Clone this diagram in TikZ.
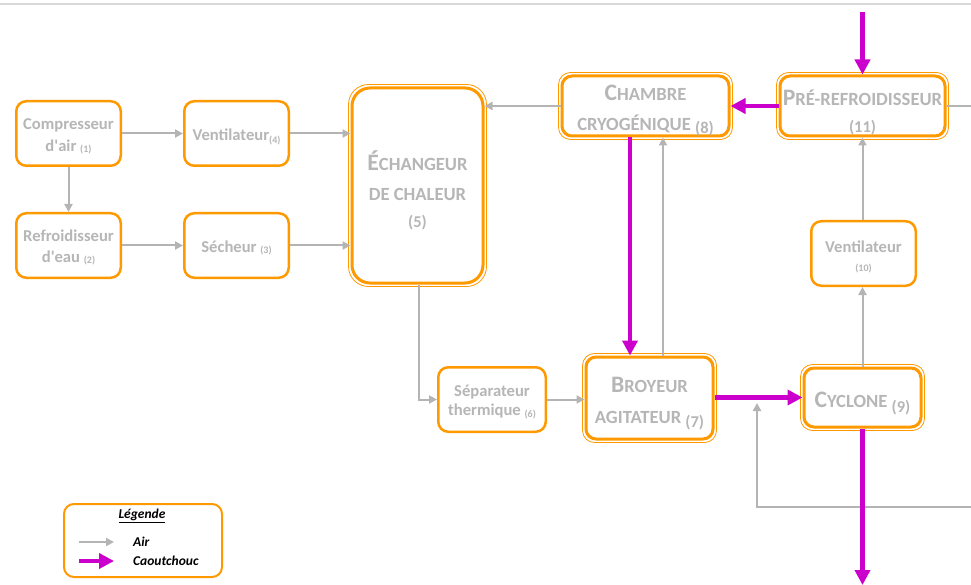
\documentclass[tikz,border=0pt]{standalone}
\usepackage{fontspec}
\setmainfont{Carlito}
\usetikzlibrary{arrows.meta,calc}
\definecolor{orng}{RGB}{255,153,0}
\definecolor{magn}{RGB}{204,0,204}
\definecolor{txtgray}{RGB}{182,182,182}
\definecolor{airgray}{RGB}{180,180,180}
\definecolor{topgray}{RGB}{217,217,217}
\newcommand{\upC}[1]{{\fontsize{23.6}{29}\selectfont #1}}
\newcommand{\scC}[1]{{\fontsize{18.6}{29}\selectfont #1}}
\newcommand{\idx}[1]{{\fontsize{10}{12}\selectfont #1}}
\newcommand{\numC}[1]{{\fontsize{16.5}{20}\selectfont #1}}
\newcommand{\lineat}[2]{\raisebox{#1}[0pt][0pt]{#2}}
\tikzset{
  box/.style={draw=orng, line width=2.5pt, rounded corners=10pt, fill=white,
    text=txtgray, font=\bfseries\fontsize{16.6}{20.5}\selectfont, align=center, inner sep=0pt},
  bigbox/.style={box, line width=3pt, font=\bfseries\fontsize{18.6}{29}\selectfont},
  outerline/.style={draw=orng, line width=0.8pt},
  airline/.style={draw=airgray, line width=2pt},
  air/.style={airline, -{Triangle[length=8pt,width=8pt]}},
  rub/.style={draw=magn, line width=4.5pt, -{Triangle[length=15pt,width=15pt]}},
  legbox/.style={draw=orng, line width=2pt, rounded corners=10pt, fill=white},
  legtext/.style={font=\bfseries\itshape\fontsize{13.5}{16}\selectfont, text=black, inner sep=0pt}
}
\begin{document}
\begin{tikzpicture}[x=1pt,y=-1pt]
\useasboundingbox (0,0) rectangle (971,585);
\draw[topgray, line width=1.5pt] (0,4) -- (971,4);

% single boxes
\node[box, minimum width=104.5pt, minimum height=64.5pt] (c1) at (68.5,133.5)
  {\lineat{-7pt}{Compresseur}\\[1pt]\lineat{-7pt}{d\textquotesingle air \raisebox{-1pt}{\idx{(1)}}}};
\node[box, minimum width=104.5pt, minimum height=64.5pt] (r2) at (68.5,245.5)
  {\lineat{-6.5pt}{Refroidisseur}\\[0.5pt]\lineat{-6.5pt}{d\textquotesingle eau \raisebox{-1pt}{\idx{(2)}}}};
\node[box, minimum width=104.5pt, minimum height=64.5pt] (v4) at (236.5,133.5)
  {\lineat{-7.5pt}{Ventilateur\raisebox{-3pt}{\idx{(4)}}}};
\node[box, minimum width=104.5pt, minimum height=64.5pt] (s3) at (236.5,245.5)
  {\lineat{-7pt}{Sécheur \raisebox{-1pt}{\idx{(3)}}}};
\node[box, minimum width=104.5pt, minimum height=64.5pt] (v10) at (863.5,253.5)
  {\lineat{-8.5pt}{Ventilateur}\\[-2pt]\lineat{-8.5pt}{\idx{(10)}}};
\node[box, minimum width=107.5pt, minimum height=64.5pt] (s6) at (492,399.5)
  {\lineat{-6.5pt}{Séparateur}\\[-1pt]\lineat{-6.5pt}{thermique \raisebox{-2pt}{\idx{(6)}}}};

% double boxes
\node[bigbox, rounded corners=18pt, minimum width=131pt, minimum height=195pt] (e5) at (417.5,185.5)
  {\lineat{-13.5pt}{\upC{É}\scC{CHANGEUR}}\\[1pt]\lineat{-13.5pt}{\scC{DE CHALEUR}}\\[-2pt]\lineat{-13.5pt}{\numC{(5)}}};
\node[bigbox, minimum width=167pt, minimum height=60pt] (c8) at (645.5,106)
  {\lineat{-9.5pt}{\upC{C}\scC{HAMBRE}}\\[1.5pt]\lineat{-9.5pt}{\scC{CRYOGÉNIQUE} \raisebox{-3pt}{\numC{(8)}}}};
\node[bigbox, minimum width=165pt, minimum height=60pt] (p11) at (862.5,106)
  {\lineat{-13pt}{\upC{P}\scC{RÉ-REFROIDISSEUR}}\\[-1.5pt]\lineat{-13pt}{\numC{(11)}}};
\node[bigbox, minimum width=127pt, minimum height=82pt] (b7) at (649.5,398)
  {\lineat{-10pt}{\upC{B}\scC{ROYEUR}}\\[2.5pt]\lineat{-10pt}{\scC{AGITATEUR} \raisebox{-4pt}{\numC{(7)}}}};
\node[bigbox, minimum width=117pt, minimum height=59pt] (cy9) at (862.5,397.5)
  {\lineat{-10pt}{\upC{C}\scC{YCLONE} \raisebox{-5pt}{\numC{(9)}}}};

\foreach \n/\r in {e5/20, c8/12, p11/12, b7/12, cy9/12}{
  \draw[outerline, rounded corners=\r pt] ($(\n.south west)+(-2,2)$) rectangle ($(\n.north east)+(2,-2)$);
}

% free ends
\coordinate (topin) at (862.5,12);
\coordinate (outR) at (971,106);
\coordinate (botout) at (862.5,585);
\coordinate (loopin) at (971,507);
\coordinate (loopend) at (757,403);

% air connectors
\draw[air] (c1) -- (v4);
\draw[air] (c1) -- (r2);
\draw[air] (r2) -- (s3);
\draw[air] (v4.east) -- (v4.east -| e5.west);
\draw[air] (s3.east) -- (s3.east -| e5.west);
\draw[air] (c8.west) -- (c8.west -| e5.east);
\draw[air] ([xshift=1.5pt]e5.south) |- (s6.west);
\draw[air] (s6.east) -- (s6.east -| b7.west);
\draw[air] ([xshift=13.5pt]b7.north) -- ([xshift=13.5pt]b7.north |- c8.south);
\draw[air] (cy9.north) -- (cy9.north |- v10.south);
\draw[air] (v10.north -| p11.south) -- (p11.south);
\draw[airline] (p11.east) -- (outR);
\draw[air] (loopin) -| (loopend);

% rubber connectors
\draw[rub] (topin) -- (p11.north);
\draw[rub] (p11.west) -- (c8.east);
\draw[rub] ([xshift=-15.5pt]c8.south) -- ([xshift=-15.5pt]c8.south |- b7.north);
\draw[rub] (b7.east |- cy9.west) -- (cy9.west);
\draw[rub] (cy9.south) -- (botout);

% legend
\node[legbox, minimum width=158pt, minimum height=73pt] (leg) at (143,540.5) {};
\node[legtext] (legt) at (142,516) {\underline{Légende}};
\coordinate (la1) at (79,542);
\coordinate (la2) at (114,542);
\coordinate (lr1) at (79,561);
\coordinate (lr2) at (114,561);
\draw[air] (la1) -- (la2);
\draw[rub] (lr1) -- (lr2);
\node[legtext, anchor=west] (lair) at (133,542) {Air};
\node[legtext, anchor=west] (lcao) at (133,561) {Caoutchouc};
\end{tikzpicture}
\end{document}
